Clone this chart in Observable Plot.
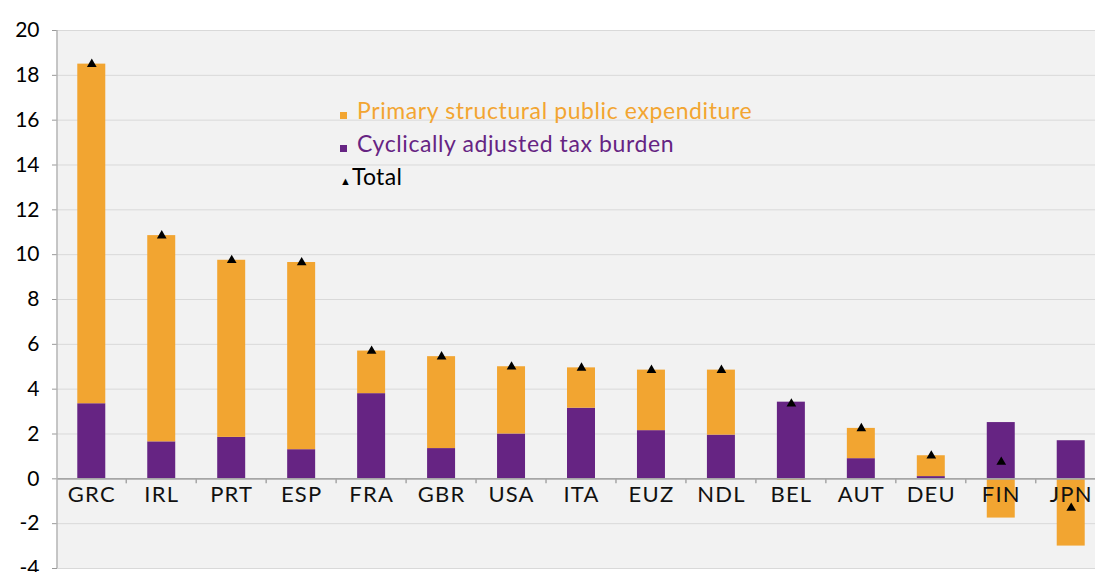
<!DOCTYPE html>
<html><head><meta charset="utf-8">
<script src="https://cdn.jsdelivr.net/npm/d3@7"></script>
<script src="https://cdn.jsdelivr.net/npm/@observablehq/plot@0.6"></script>
<style>
html,body{margin:0;padding:0;background:#fff;overflow:hidden;width:1095px;height:572px}
#wrap{position:relative;width:1095px;height:572px;overflow:hidden}
#chart svg{max-width:none !important}
#legend{position:absolute;left:340px;top:94px;font-family:Lato,sans-serif;font-size:23px;line-height:33px;letter-spacing:0.6px}
#legend div{white-space:nowrap}
#legend span.sw{display:inline-block;width:7px;height:7px;margin-right:10px}
</style></head>
<body><div id="wrap"><div id="chart"></div>
<div id="legend">
<div style="color:#f2a531"><span class="sw" style="background:#f2a531"></span>Primary structural public expenditure</div>
<div style="color:#662483"><span class="sw" style="background:#662483"></span>Cyclically adjusted tax burden</div>
<div style="color:#000;letter-spacing:0.3px"><span style="font-size:11px;margin-right:1px;letter-spacing:0">▲</span>Total</div>
</div></div>
<script>
const countries = ["GRC","IRL","PRT","ESP","FRA","GBR","USA","ITA","EUZ","NDL","BEL","AUT","DEU","FIN","JPN"];
const taxBurden   = [3.35,1.65,1.85,1.30,3.80,1.35,2.00,3.15,2.15,1.95,3.42,0.90,0.10,2.51,1.70];
const expenditure = [15.15,9.20,7.90,8.35,1.90,4.10,3.00,1.80,2.70,2.90,-0.07,1.35,0.93,-1.75,-3.00];
const totals      = [18.5,10.85,9.75,9.65,5.7,5.45,5.0,4.95,4.85,4.85,3.35,2.25,1.03,0.75,-1.3];
const yTicks = [-4,-2,0,2,4,6,8,10,12,14,16,18,20];

const series = [];
countries.forEach((c,i)=>{
  series.push({country:c, key:"Cyclically adjusted tax burden", value:taxBurden[i]});
  series.push({country:c, key:"Primary structural public expenditure", value:expenditure[i]});
});
const tot = countries.map((c,i)=>({country:c, value:totals[i]}));

const chart = Plot.plot({
  width:1105, height:572,
  marginTop:30, marginBottom:4, marginLeft:57, marginRight:0,
  style:{fontFamily:"Lato, sans-serif", fontSize:"20px", background:"transparent", color:"#000"},
  x:{domain:countries, paddingInner:0.6, paddingOuter:0.29, round:false, axis:null},
  y:{domain:[-4,20], ticks:yTicks, tickFormat:d=>d, grid:false, label:null},
  color:{domain:["Cyclically adjusted tax burden","Primary structural public expenditure"], range:["#662483","#f2a531"]},
  marks:[
    Plot.frame({fill:"#f2f2f2", stroke:null}),
    Plot.ruleY(yTicks.filter(d=>d!==0), {stroke:"#d9d9d9", strokeWidth:1}),
    Plot.barY(series, {x:"country", y:"value", fill:"key", order:["Cyclically adjusted tax burden","Primary structural public expenditure"]}),
    Plot.ruleY([0], {stroke:"#a6a6a6", strokeWidth:1.8}),
    Plot.text(countries, {x:d=>d, y:0, text:d=>d, lineAnchor:"top", dy:8, fill:"#111", fontSize:22}),
    Plot.dot(tot, {x:"country", y:"value", symbol:"triangle", r:3.6, fill:"#000"}),
    Plot.axisY({ticks:yTicks, tickSize:5, tickPadding:13, tickFormat:d=>d, stroke:"#999", fontSize:21, label:null})
  ]
});
chart.style.maxWidth = "none";
document.getElementById("chart").appendChild(chart);
const svg = d3.select(chart);
svg.selectAll("g[aria-label='text'] text").attr("letter-spacing","1.2px");
svg.append("line").attr("x1",57).attr("x2",57).attr("y1",30).attr("y2",568).attr("stroke","#b3b3b3").attr("stroke-width",1.5);
const xs = chart.scale("x"), ys = chart.scale("y");
const gap = xs.step - xs.bandwidth;
const y0 = ys.apply(0);
countries.slice(1).forEach(c=>{
  const bx = xs.apply(c) - gap/2;
  svg.append("line").attr("x1",bx).attr("x2",bx).attr("y1",y0).attr("y2",y0+5).attr("stroke","#a6a6a6").attr("stroke-width",1.5);
});
</script></body></html>
